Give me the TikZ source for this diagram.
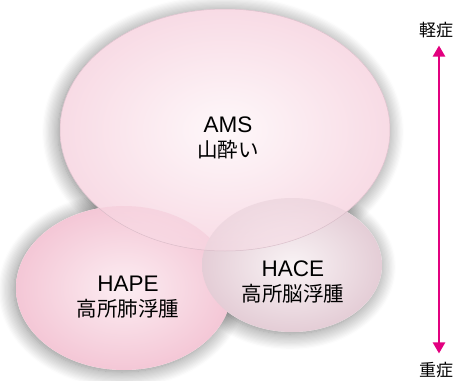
\documentclass[tikz,border=0pt]{standalone}
\usepackage{fontspec}
\setmainfont{Liberation Sans}
\newfontfamily\jp{Noto Sans CJK JP}
\usetikzlibrary{shapes.geometric,shadows.blur,arrows.meta}
\definecolor{amsin}{HTML}{FEF8FA}
\definecolor{amsout}{HTML}{F8DBE5}
\definecolor{hapein}{HTML}{FCEDF2}
\definecolor{hapeout}{HTML}{F4C7D6}
\definecolor{hacein}{HTML}{F9F3F5}
\definecolor{haceout}{HTML}{E4CDD6}
\definecolor{mag}{HTML}{E2007F}
\definecolor{rim}{HTML}{D4B8C4}
\tikzset{
  blob/.style={ellipse, inner sep=0pt, outer sep=0pt, shade},
  shadowpass/.style={fill=white, blur shadow={shadow xshift=-2pt, shadow yshift=-2pt, shadow blur radius=16pt, shadow blur steps=14, shadow opacity=50}},
  lbl/.style={align=center, inner sep=0pt, text=black, font=\fontsize{22.5}{25}\selectfont},
  side/.style={inner sep=0pt, font=\jp\fontsize{17}{17}\selectfont},
  arr/.style={mag, line width=2.4pt, {Triangle[width=12pt,length=11pt]}-{Triangle[width=12pt,length=11pt]}}
}
\newcommand{\jl}[1]{{\jp\fontsize{20.5}{25}\selectfont #1}}
\begin{document}
\begin{tikzpicture}[x=1pt,y=-1pt]
\useasboundingbox (0,0) rectangle (459,381);
% shadows
\path[shadowpass] (225,130) ellipse [x radius=165pt, y radius=121pt];
\path[shadowpass] (124,288) ellipse [x radius=108pt, y radius=82pt];
\path[shadowpass] (292,265) ellipse [x radius=90pt, y radius=67pt];
% ellipses
\node[blob, minimum width=330pt, minimum height=242pt, inner color=amsin, outer color=amsout] (ams) at (225,130) {};
\node[blob, minimum width=216pt, minimum height=164pt, inner color=hapein, outer color=hapeout] (hape) at (124,288) {};
\node[blob, minimum width=180pt, minimum height=134pt, inner color=hacein, outer color=haceout] (hace) at (292,265) {};
% translucent AMS over the overlaps
\shade[inner color=amsin, outer color=amsout, fill opacity=0.5] (225,130) ellipse [x radius=165pt, y radius=121pt];
\draw[rim, line width=0.5pt, opacity=0.8] (225,130) ellipse [x radius=165pt, y radius=121pt];
% texts
\node[lbl] (amst) at (228,138) {AMS\\\jl{山酔い}};
\node[lbl] (hapet) at (128,297) {HAPE\\\jl{高所肺浮腫}};
\node[lbl] (hacet) at (293,282) {HACE\\\jl{高所脳浮腫}};
% severity axis
\node[side] (mild) at (436,30) {軽症};
\node[side] (severe) at (436,370) {重症};
\draw[arr] ([xshift=3pt,yshift=-7.5pt]mild.south) -- ([xshift=3pt,yshift=8.5pt]severe.north);
\end{tikzpicture}
\end{document}
